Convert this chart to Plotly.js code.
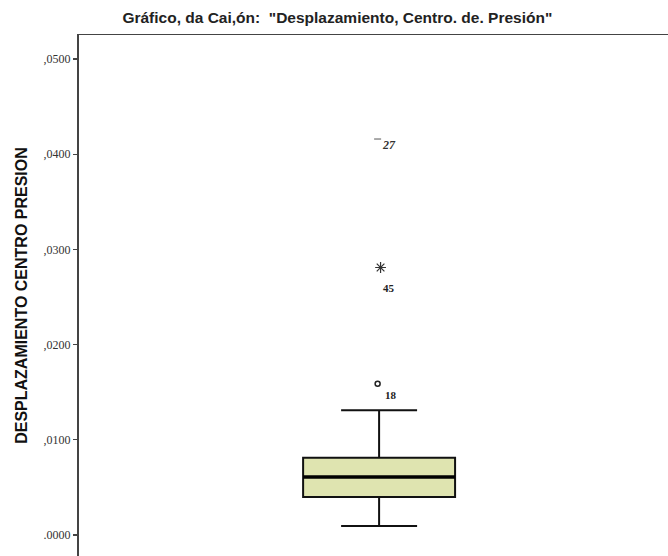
<!DOCTYPE html>
<html>
<head>
<meta charset="utf-8">
<script src="https://cdn.plot.ly/plotly-3.0.1.min.js"></script>
<style>html,body{margin:0;padding:0;background:#fff;}#chart{width:668px;height:556px;}</style>
</head>
<body>
<div id="chart"></div>
<script>
// Box statistics
const boxX = [0.019];
const lowerWhisker = [0.00095];
const q1 = [0.0040];
const median = [0.0061];
const q3 = [0.0081];
const upperWhisker = [0.0131];

// Outliers
const outlierY = [0.0159];
const outlierLabel = ["18"];
const extremeY = [0.0281];
const extremeLabel = ["45"];
const extreme2Y = [0.0416];
const extreme2Label = ["27"];

// Axis ticks
const tickVals = [0, 0.01, 0.02, 0.03, 0.04, 0.05];
const tickText = [".0000", ",0100", ",0200", ",0300", ",0400", ",0500"];

const boxWidth = 0.516;

const traces = [
  {
    type: 'box',
    x: boxX,
    q1: q1, median: median, q3: q3,
    lowerfence: lowerWhisker, upperfence: upperWhisker,
    width: boxWidth,
    whiskerwidth: 0.5,
    fillcolor: '#dfe4b0',
    line: {color: '#111', width: 2},
    hoverinfo: 'skip',
    showlegend: false
  },
  {
    // thicker median bar drawn over the box
    type: 'scatter', mode: 'lines',
    x: [boxX[0] - boxWidth / 2, boxX[0] + boxWidth / 2], y: [median[0], median[0]],
    line: {color: '#000', width: 3.5},
    showlegend: false
  },
  {
    type: 'scatter', mode: 'markers',
    x: [boxX[0] - 0.005], y: outlierY,
    marker: {symbol: 'circle-open', size: 5, color: '#222', line: {width: 1.5}},
    showlegend: false
  },
  {
    type: 'scatter', mode: 'markers',
    x: [boxX[0] + 0.005], y: extremeY,
    marker: {symbol: 'asterisk-open', size: 9, color: '#333', line: {width: 1.2}},
    showlegend: false
  },
  {
    type: 'scatter', mode: 'markers',
    x: [boxX[0] - 0.005], y: extreme2Y,
    marker: {symbol: 'line-ew-open', size: 5, color: '#555', line: {width: 1}},
    showlegend: false
  }
];

const labelFont = {family: 'Liberation Serif, Times New Roman, serif', size: 11, color: '#222'};
const annotations = [
  {x: boxX[0], y: outlierY[0], text: '<b>' + outlierLabel[0] + '</b>', showarrow: false, xshift: 12, yshift: -11, font: labelFont},
  {x: boxX[0], y: extremeY[0], text: '<b>' + extremeLabel[0] + '</b>', showarrow: false, xshift: 10, yshift: -20, font: labelFont},
  {x: boxX[0], y: extreme2Y[0], text: '<b><i>' + extreme2Label[0] + '</i></b>', showarrow: false, xshift: 10, yshift: -6, font: {family: 'Liberation Serif, Times New Roman, serif', size: 12, color: '#333'}}
];

const layout = {
  width: 668, height: 556,
  margin: {l: 79, r: 0, t: 35, b: 0, pad: 0},
  paper_bgcolor: '#fff', plot_bgcolor: '#fff',
  title: {
    text: '<b>Gráfico, da Cai,ón:  "Desplazamiento, Centro. de. Presión"</b>',
    font: {family: 'Liberation Sans, Arial, sans-serif', size: 15.5, color: '#222'},
    x: 0.505, xref: 'container', xanchor: 'center',
    y: 0.969, yref: 'container', yanchor: 'middle'
  },
  xaxis: {
    range: [-1, 1], side: 'top',
    showline: true, linecolor: '#444', linewidth: 1.5,
    showgrid: false, zeroline: false, showticklabels: false, ticks: ''
  },
  yaxis: {
    range: [-0.00221, 0.05253],
    tickvals: tickVals, ticktext: tickText,
    ticks: 'outside', ticklen: 4, tickwidth: 1.2, tickcolor: '#444',
    tickfont: {family: 'Liberation Serif, Times New Roman, serif', size: 12, color: '#333'},
    showline: true, linecolor: '#444', linewidth: 2,
    showgrid: false, zeroline: false,
    title: {
      text: '<b>DESPLAZAMIENTO CENTRO PRESION</b>',
      font: {family: 'Liberation Sans, Arial, sans-serif', size: 16, color: '#111'},
      standoff: 12
    }
  },
  annotations: annotations,
  showlegend: false
};

Plotly.newPlot('chart', traces, layout, {displayModeBar: false, staticPlot: true});
</script>
</body>
</html>
